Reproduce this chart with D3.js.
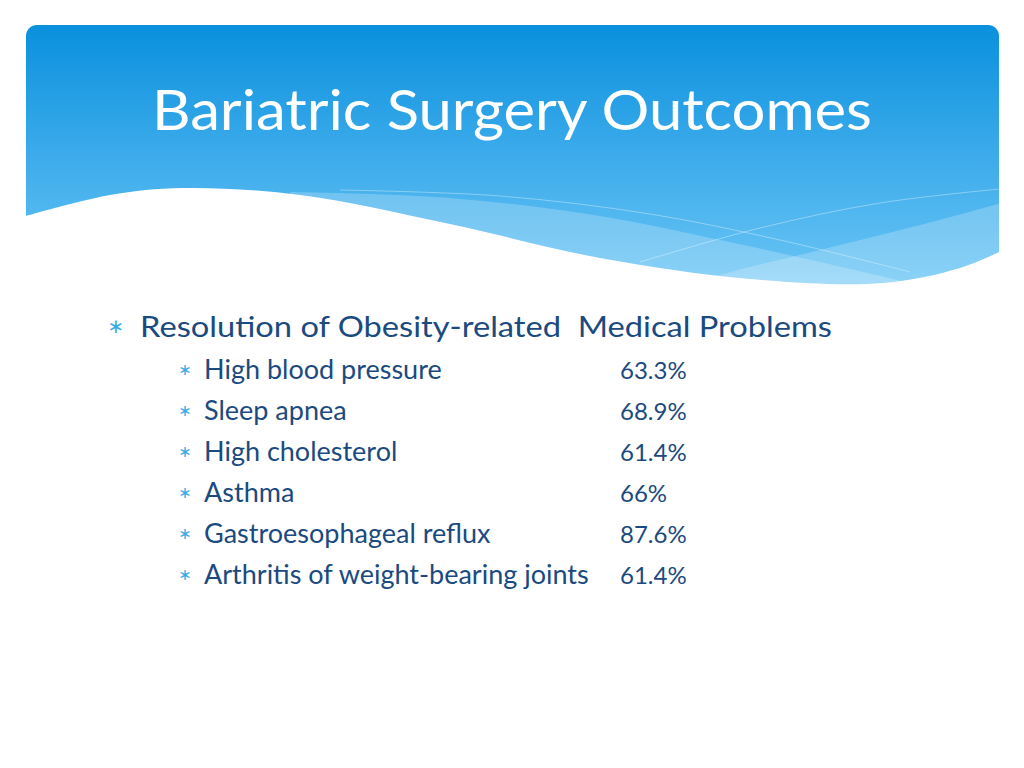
<!DOCTYPE html>
<html>
<head>
<meta charset="utf-8">
<script src="https://cdn.jsdelivr.net/npm/d3@7"></script>
<style>
  body { margin: 0; background: #fff; }
  svg { display: block; }
</style>
</head>
<body>
<svg id="slide"></svg>
<script>
const title = "Bariatric Surgery Outcomes";
const heading = "Resolution of Obesity-related  Medical Problems";
const problems = [
  "High blood pressure",
  "Sleep apnea",
  "High cholesterol",
  "Asthma",
  "Gastroesophageal reflux",
  "Arthritis of weight-bearing joints"
];
const resolved = ["63.3%", "68.9%", "61.4%", "66%", "87.6%", "61.4%"];

const size = { width: 1024, height: 768 };
const header = { left: 26, right: 999, top: 25, bottom: 290, r: 11 };
const navy = "#1b4a80";
const bulletBlue = "#38ace6";
const font = "Lato, 'Noto Sans', sans-serif";

const svg = d3.select("#slide")
  .attr("width", size.width)
  .attr("height", size.height);

const defs = svg.append("defs");
const grad = defs.append("linearGradient")
  .attr("id", "hdr")
  .attr("x1", 0).attr("y1", 0).attr("x2", 0).attr("y2", 1);
grad.append("stop").attr("offset", "0%").attr("stop-color", "#0a90dd");
grad.append("stop").attr("offset", "45%").attr("stop-color", "#38a9ea");
grad.append("stop").attr("offset", "100%").attr("stop-color", "#6cc6f5");

// only the top corners matter, the bottom is hidden under the wave
defs.append("clipPath").attr("id", "hdrClip")
  .append("rect")
  .attr("x", header.left).attr("y", header.top)
  .attr("width", header.right - header.left)
  .attr("height", 400)
  .attr("rx", header.r);

const curve = d3.line().curve(d3.curveCatmullRom.alpha(0.5));

// white wave that cuts the header
const wave = [[26, 216], [110, 195], [183, 188], [300, 195], [450, 224],
  [600, 258], [750, 279], [883, 283], [960, 268], [999, 252]];

const g = svg.append("g").attr("clip-path", "url(#hdrClip)");

g.append("rect")
  .attr("x", header.left).attr("y", header.top)
  .attr("width", header.right - header.left)
  .attr("height", header.bottom - header.top)
  .attr("fill", "url(#hdr)");

// lighter bands
const bandA = [[290, 192], [450, 198], [600, 216], [720, 240], [820, 262], [940, 290]];
const bandB = [[640, 300], [720, 275], [820, 250], [920, 225], [1005, 202]];

g.append("path")
  .attr("d", curve(bandA) + "L1010,300L290,300Z")
  .attr("fill", "#fff")
  .attr("opacity", 0.22);
g.append("path")
  .attr("d", curve(bandB) + "L1010,300Z")
  .attr("fill", "#fff")
  .attr("opacity", 0.22);

// thin highlight lines
const lineA = [[340, 190], [500, 196], [650, 214], [780, 240], [910, 272]];
const lineB = [[640, 262], [760, 228], [880, 203], [1000, 189]];
[lineA, lineB].forEach((pts) => {
  g.append("path")
    .attr("d", curve(pts))
    .attr("fill", "none")
    .attr("stroke", "#fff")
    .attr("stroke-width", 0.8)
    .attr("opacity", 0.45);
});

svg.append("path")
  .attr("d", curve(wave) + "L1010,252L1010,310L15,310L15,216Z")
  .attr("fill", "#fff");

svg.append("text")
  .attr("x", 512)
  .attr("y", 130)
  .attr("text-anchor", "middle")
  .attr("fill", "#fff")
  .style("font-family", font)
  .style("font-size", "56px")
  .attr("textLength", 720)
  .attr("lengthAdjust", "spacingAndGlyphs")
  .text(title);

// heading bullet
svg.append("text")
  .attr("x", 116).attr("y", 333)
  .attr("text-anchor", "middle")
  .attr("fill", bulletBlue)
  .style("font-family", "'DejaVu Sans', sans-serif")
  .style("font-size", "20px")
  .text("\u2217");

svg.append("text")
  .attr("x", 140).attr("y", 337)
  .attr("fill", navy)
  .style("font-family", font)
  .style("font-size", "29px")
  .style("white-space", "pre")
  .attr("textLength", 692)
  .attr("lengthAdjust", "spacingAndGlyphs")
  .text(heading);

const y = d3.scaleBand()
  .domain(problems)
  .range([360, 606])
  .paddingInner(0);

const rows = svg.append("g")
  .selectAll("g")
  .data(problems)
  .join("g")
  .attr("transform", (d) => `translate(0, ${y(d) + 19})`);

rows.append("text")
  .attr("x", 185)
  .attr("y", -4)
  .attr("text-anchor", "middle")
  .attr("fill", bulletBlue)
  .style("font-family", "'DejaVu Sans', sans-serif")
  .style("font-size", "16px")
  .text("\u2217");

rows.append("text")
  .attr("x", 204)
  .attr("fill", navy)
  .style("font-family", font)
  .style("font-size", "27px")
  .text((d) => d);

rows.append("text")
  .attr("x", 620)
  .attr("fill", navy)
  .style("font-family", font)
  .style("font-size", "24px")
  .text((d, i) => resolved[i]);
</script>
</body>
</html>
